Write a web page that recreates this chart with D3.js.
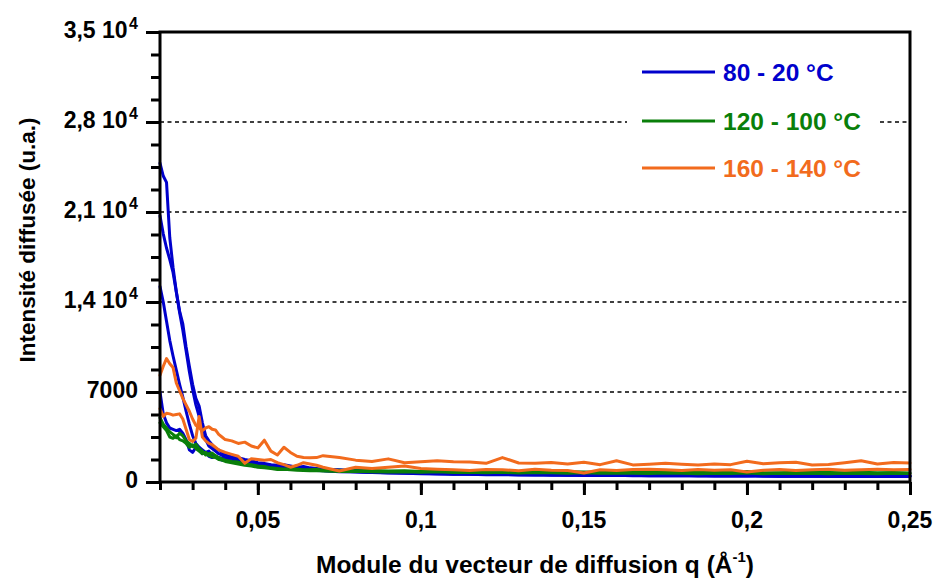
<!DOCTYPE html>
<html>
<head>
<meta charset="utf-8">
<script src="https://cdn.jsdelivr.net/npm/d3@7"></script>
<style>
  html, body { margin: 0; padding: 0; background: #fff; }
  svg { display: block; font-family: "Liberation Sans", Arial, Helvetica, sans-serif; font-weight: bold; }
</style>
</head>
<body>
<svg id="chart" width="940" height="579"></svg>
<script>
// Scattering vector modulus q (Å^-1), shared by every curve
const q = [
  0.020, 0.021, 0.022, 0.023, 0.024, 0.025, 0.026, 0.027, 0.028, 0.029, 0.030,
  0.031, 0.032, 0.033, 0.034, 0.035, 0.036, 0.037, 0.038, 0.039, 0.040,
  0.042, 0.044, 0.046, 0.048, 0.050, 0.052, 0.054, 0.056, 0.058, 0.060,
  0.062, 0.064, 0.066, 0.068, 0.070,
  0.075, 0.080, 0.085, 0.090, 0.095, 0.100, 0.105, 0.110, 0.115, 0.120,
  0.125, 0.130, 0.135, 0.140, 0.145, 0.150, 0.155, 0.160, 0.165, 0.170,
  0.175, 0.180, 0.185, 0.190, 0.195, 0.200, 0.205, 0.210, 0.215, 0.220,
  0.225, 0.230, 0.235, 0.240, 0.245, 0.250
];

// Scattered intensity (a.u.), 80 - 20 °C runs
const blue1 = [
  24800, 23800, 23300, 19000, 16700, 14800, 13300, 12300, 10500, 9000, 7600,
  6500, 5900, 4600, 3600, 3200, 2900, 2600, 2500, 2300, 2100,
  1950, 1900, 1750, 1650, 1500, 1450, 1350, 1300, 1350, 1250, 1150, 1200, 1100, 1050, 1000,
  950, 900, 850, 800, 780, 720, 700, 650, 680, 620, 640, 600, 620, 580, 600, 560, 580, 550,
  570, 540, 560, 520, 550, 530, 500, 540, 520, 480, 510, 500, 470, 500, 490, 460, 480, 470
];
const blue2 = [
  20700, 19300, 18200, 17300, 16300, 14800, 13200, 11800, 10200, 8600, 7200,
  6000, 5100, 3900, 3300, 2800, 2600, 2400, 2200, 2100, 1900,
  1850, 1700, 1650, 1550, 1450, 1350, 1300, 1200, 1150, 1100, 1050, 1000, 1020, 950, 900,
  850, 800, 760, 720, 700, 680, 640, 620, 600, 580, 600, 560, 540, 560, 520, 540, 500, 520,
  490, 510, 480, 500, 470, 490, 460, 480, 450, 470, 440, 460, 450, 430, 460, 440, 420, 450
];
const blue3 = [
  15200, 14000, 12500, 11000, 9800, 8700, 7600, 6600, 5500, 4500, 3600,
  3000, 2700, 2500, 2300, 2400, 2100, 2000, 1900, 1850, 1700,
  1650, 1550, 1500, 1400, 1350, 1300, 1200, 1150, 1100, 1050, 1000, 980, 950, 900, 880,
  800, 780, 740, 700, 680, 650, 620, 600, 610, 570, 580, 550, 560, 530, 540, 510, 530, 500,
  520, 490, 510, 480, 500, 470, 490, 460, 480, 450, 470, 440, 460, 430, 450, 420, 440, 430
];
const blue4 = [
  7000, 5300, 4600, 4200, 4100, 4000, 4100, 3800, 3300, 2500, 2300,
  2700, 2500, 2200, 2300, 2000, 1900, 2000, 1800, 1700, 1700,
  1600, 1500, 1550, 1450, 1400, 1300, 1250, 1200, 1150, 1100, 1080, 1000, 950, 980, 900,
  860, 820, 780, 760, 720, 700, 680, 650, 640, 620, 600, 610, 580, 590, 560, 570, 550, 560,
  530, 550, 520, 540, 510, 530, 500, 520, 490, 510, 480, 500, 470, 490, 460, 480, 470, 460
];

// 120 - 100 °C runs
const green1 = [
  5000, 4500, 4200, 3900, 3700, 3450, 3800, 3600, 3200, 3000, 2750,
  2950, 2600, 2400, 2100, 2200, 2250, 2050, 1900, 1800, 1700,
  1600, 1550, 1400, 1350, 1250, 1200, 1100, 1050, 1000, 1050, 1000, 950, 950, 1000, 900,
  920, 880, 900, 850, 870, 820, 850, 800, 830, 790, 820, 780, 800, 760, 790, 770, 750, 790,
  760, 740, 780, 740, 760, 730, 750, 820, 740, 720, 760, 730, 740, 710, 750, 720, 740, 700
];
const green2 = [
  4600, 4300, 4000, 3500, 3400, 3600, 3300, 3200, 3000, 2700, 2900,
  2600, 2400, 2200, 2300, 2050, 1950, 1900, 1750, 1700, 1600,
  1500, 1400, 1300, 1250, 1150, 1100, 1050, 980, 1000, 950, 920, 900, 880, 900, 850,
  820, 840, 800, 780, 800, 760, 790, 740, 760, 720, 750, 700, 730, 710, 690, 720, 680, 700,
  690, 660, 700, 680, 650, 690, 670, 700, 650, 680, 660, 690, 650, 680, 670, 640, 680, 660
];

// 160 - 140 °C runs
const orange1 = [
  8300, 9000, 9600, 9200, 8900, 7700, 7100, 6500, 6000, 5500, 4900,
  4400, 4200, 4000, 4200, 4300, 4100, 4050, 3700, 3500, 3300,
  3200, 3000, 3100, 2800, 2650, 3250, 2400, 2100, 2700, 2300, 2000, 1900, 1880, 1900, 2050,
  1900, 1700, 1600, 1800, 1500, 1580, 1650, 1580, 1560, 1450, 1900, 1480, 1450, 1520, 1400, 1530,
  1350, 1650, 1330, 1380, 1450, 1380, 1320, 1400, 1350, 1620, 1420, 1500, 1530, 1330, 1370, 1500,
  1650, 1400, 1520, 1480
];
const orange2 = [
  5700, 5100, 5350, 5300, 5200, 5250, 5300, 4900, 4100, 3300, 3150,
  3400, 5100, 3500, 3200, 3000, 2900, 2700, 2500, 2400, 2300,
  2150, 2000, 1450, 1800, 1750, 1700, 1750, 1500, 1350, 1150, 1300, 1500, 1400, 1300, 1150,
  850, 1150, 1050, 1150, 1250, 1050, 1000, 950, 900, 980, 950, 880, 1000, 920, 900, 700,
  950, 900, 980, 1000, 950, 900, 980, 920, 950, 780, 920, 980, 900, 950, 1000, 920, 960,
  1000, 950, 980
];

const seriesNames = ["80 - 20 °C", "120 - 100 °C", "160 - 140 °C"];
const seriesColors = ["#0000cc", "#0a7f0a", "#f26b1d"];
const seriesCurves = [[blue1, blue2, blue3, blue4], [green1, green2], [orange1, orange2]];

const yMajorTicks = [0, 7000, 14000, 21000, 28000, 35000];
const yTickMantissa = ["0", "7000", "1,4 10", "2,1 10", "2,8 10", "3,5 10"];
const yTickExponent = ["", "", "4", "4", "4", "4"];
const yGridTicks = [7000, 14000, 21000, 28000];
const xMajorTicks = [0.05, 0.10, 0.15, 0.20, 0.25];
const xTickLabels = ["0,05", "0,1", "0,15", "0,2", "0,25"];

const width = 940, height = 579;
const margin = { top: 32, right: 30, bottom: 97, left: 160 };
const plotW = width - margin.left - margin.right;
const plotH = height - margin.top - margin.bottom;

const svg = d3.select("#chart");

const x = d3.scaleLinear().domain([0.02, 0.25]).range([margin.left, margin.left + plotW]);
const y = d3.scaleLinear().domain([0, 35000]).range([margin.top + plotH, margin.top]);

const xMinorTicks = d3.range(2, 26).map(i => +(i / 100).toFixed(2));
const yMinorTicks = d3.range(0, 21).map(i => i * 1750);

// dashed horizontal reference lines
svg.append("g")
  .selectAll("line")
  .data(yGridTicks)
  .join("line")
  .attr("x1", margin.left)
  .attr("x2", margin.left + plotW)
  .attr("y1", d => y(d))
  .attr("y2", d => y(d))
  .attr("stroke", "#000")
  .attr("stroke-width", 1.6)
  .attr("stroke-dasharray", "4,3.5");

// intensity curves
const line = d3.line()
  .x((d, i) => x(q[i]))
  .y(d => y(d));

const curvesG = svg.append("g").attr("fill", "none")
  .attr("stroke-width", 3)
  .attr("stroke-linejoin", "round")
  .attr("stroke-linecap", "round");

seriesCurves.forEach((group, gi) => {
  curvesG.append("g")
    .attr("stroke", seriesColors[gi])
    .selectAll("path")
    .data(group)
    .join("path")
    .attr("d", d => line(d));
});

// legend
const legend = svg.append("g");
legend.append("rect")
  .attr("x", 627).attr("y", 48)
  .attr("width", 252).attr("height", 142)
  .attr("fill", "#fff");
const legendRows = [72, 121, 168];
seriesNames.forEach((name, i) => {
  legend.append("line")
    .attr("x1", 642).attr("x2", 715)
    .attr("y1", legendRows[i]).attr("y2", legendRows[i])
    .attr("stroke", seriesColors[i])
    .attr("stroke-width", 3);
  legend.append("text")
    .attr("x", 723).attr("y", legendRows[i] + 8.5)
    .attr("fill", seriesColors[i])
    .attr("font-size", 24.5)
    .text(name);
});

// axes
const axisStyle = g => {
  g.select(".domain").remove();
  g.selectAll(".tick line").attr("stroke", "#000").attr("stroke-width", 3);
  g.selectAll(".tick text").remove();
};

svg.append("g")
  .attr("transform", `translate(${margin.left},0)`)
  .call(d3.axisLeft(y).tickValues(yMinorTicks).tickSize(9).tickSizeOuter(0))
  .call(axisStyle);
svg.append("g")
  .attr("transform", `translate(${margin.left},0)`)
  .call(d3.axisLeft(y).tickValues(yMajorTicks).tickSize(14).tickSizeOuter(0))
  .call(axisStyle);
svg.append("g")
  .attr("transform", `translate(0,${margin.top + plotH})`)
  .call(d3.axisBottom(x).tickValues(xMinorTicks).tickSize(8).tickSizeOuter(0))
  .call(axisStyle);
svg.append("g")
  .attr("transform", `translate(0,${margin.top + plotH})`)
  .call(d3.axisBottom(x).tickValues(xMajorTicks).tickSize(13).tickSizeOuter(0))
  .call(axisStyle);

// frame
svg.append("rect")
  .attr("x", margin.left).attr("y", margin.top)
  .attr("width", plotW).attr("height", plotH)
  .attr("fill", "none")
  .attr("stroke", "#000")
  .attr("stroke-width", 3);

// y tick labels with powers of ten
const yLabels = svg.append("g").attr("text-anchor", "end");
yMajorTicks.forEach((v, i) => {
  const t = yLabels.append("text")
    .attr("x", 138)
    .attr("y", y(v) + 5.5)
    .attr("font-size", 23);
  t.append("tspan").text(yTickMantissa[i]);
  if (yTickExponent[i]) {
    t.append("tspan").attr("font-size", 16).attr("dx", 1.5).attr("dy", -9).text(yTickExponent[i]);
  }
});

// x tick labels
svg.append("g").attr("font-size", 23).attr("text-anchor", "middle")
  .selectAll("text")
  .data(xMajorTicks)
  .join("text")
  .attr("x", d => x(d))
  .attr("y", 528)
  .text((d, i) => xTickLabels[i]);

// axis titles
svg.append("text")
  .attr("transform", `translate(35,240) rotate(-90)`)
  .attr("text-anchor", "middle")
  .attr("font-size", 22.5)
  .text("Intensité diffusée (u.a.)");

const xTitle = svg.append("text")
  .attr("x", margin.left + plotW / 2)
  .attr("y", 573)
  .attr("text-anchor", "middle")
  .attr("font-size", 24.5);
xTitle.append("tspan").text("Module du vecteur de diffusion q (Å");
xTitle.append("tspan").attr("font-size", 15).attr("dy", -11).text("-1");
xTitle.append("tspan").attr("dy", 11).text(")");
</script>
</body>
</html>
